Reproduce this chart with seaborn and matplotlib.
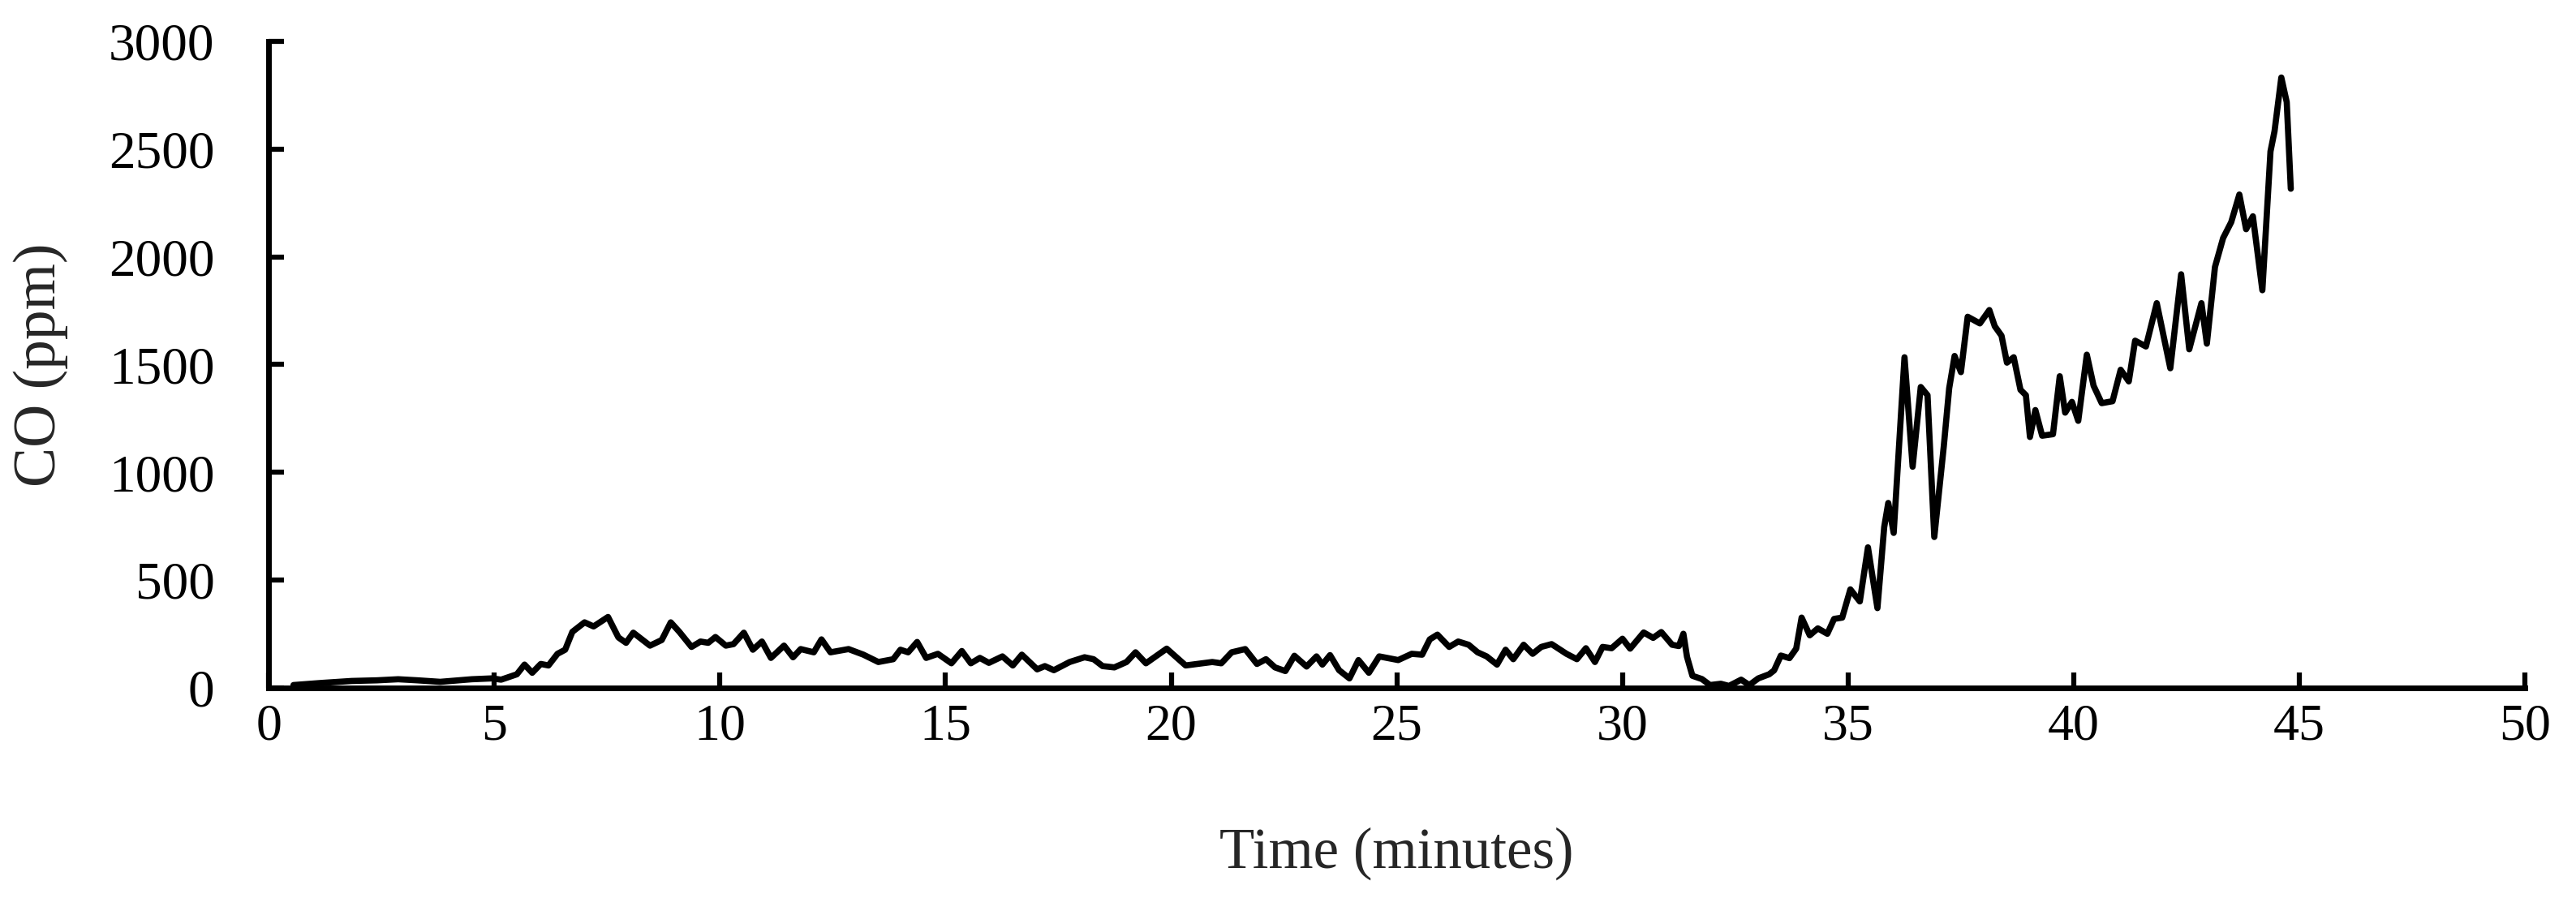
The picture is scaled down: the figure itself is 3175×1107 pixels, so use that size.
import numpy as np
import pandas as pd
import seaborn as sns
import matplotlib
matplotlib.use('Agg')
import matplotlib.pyplot as plt

# CO reading over time
time_min = [0.55, 1.18, 1.84, 2.4, 2.87, 3.3, 3.8, 4.5, 4.95, 5.15,
            5.5, 5.67, 5.84, 6.03, 6.2, 6.4, 6.57, 6.73, 7.0, 7.2,
            7.52, 7.75, 7.92, 8.08, 8.45, 8.71, 8.91, 9.1, 9.37, 9.57,
            9.74, 9.9, 10.13, 10.3, 10.53, 10.73, 10.93, 11.13, 11.42, 11.62,
            11.79, 12.08, 12.25, 12.45, 12.85, 13.18, 13.51, 13.84, 14.0, 14.17,
            14.37, 14.57, 14.83, 15.13, 15.36, 15.56, 15.76, 15.96, 16.26, 16.49,
            16.69, 17.03, 17.2, 17.4, 17.75, 18.08, 18.28, 18.48, 18.74, 19.01,
            19.21, 19.44, 19.9, 20.32, 20.58, 20.91, 21.11, 21.34, 21.64, 21.9,
            22.1, 22.3, 22.53, 22.73, 23.0, 23.22, 23.35, 23.52, 23.72, 23.95,
            24.15, 24.38, 24.61, 25.03, 25.33, 25.56, 25.73, 25.9, 26.16, 26.36,
            26.59, 26.79, 26.99, 27.22, 27.41, 27.58, 27.81, 28.01, 28.2, 28.43,
            28.76, 28.99, 29.19, 29.39, 29.56, 29.76, 30.0, 30.17, 30.47, 30.68,
            30.86, 31.1, 31.25, 31.35, 31.43, 31.55, 31.76, 31.94, 32.18, 32.36,
            32.63, 32.81, 33.01, 33.25, 33.36, 33.51, 33.7, 33.85, 33.97, 34.15,
            34.33, 34.54, 34.69, 34.87, 35.05, 35.26, 35.44, 35.65, 35.8, 35.89,
            36.01, 36.25, 36.43, 36.61, 36.76, 36.91, 37.12, 37.24, 37.36, 37.5,
            37.65, 37.92, 38.13, 38.25, 38.4, 38.52, 38.67, 38.82, 38.94, 39.03,
            39.15, 39.3, 39.54, 39.69, 39.81, 39.96, 40.1, 40.29, 40.44, 40.62,
            40.86, 41.04, 41.22, 41.36, 41.6, 41.84, 42.14, 42.38, 42.56, 42.83,
            42.95, 43.13, 43.31, 43.49, 43.67, 43.82, 43.97, 44.18, 44.36, 44.45,
            44.6, 44.72, 44.81]
co_ppm = [13, 23, 32, 35, 40, 35, 28, 40, 44, 38,
          63, 108, 70, 111, 104, 158, 177, 260, 304, 285,
          329, 234, 209, 256, 196, 222, 304, 260, 190, 215,
          209, 236, 196, 203, 256, 177, 215, 139, 196, 142,
          180, 165, 225, 165, 180, 154, 120, 133, 177, 165,
          213, 139, 158, 114, 171, 114, 139, 116, 146, 104,
          154, 86, 101, 82, 120, 142, 133, 101, 95, 120,
          165, 114, 182, 104, 111, 120, 114, 165, 180, 111,
          133, 95, 78, 149, 99, 146, 108, 152, 82, 44,
          129, 70, 146, 129, 158, 154, 225, 247, 190, 215,
          200, 165, 146, 108, 177, 133, 200, 158, 190, 203,
          158, 133, 184, 120, 190, 184, 228, 182, 257, 232,
          259, 200, 194, 251, 144, 56, 41, 13, 19, 9,
          38, 13, 44, 63, 81, 150, 138, 182, 326, 244,
          276, 251, 320, 326, 457, 401, 652, 370, 746, 858,
          719, 1534, 1026, 1396, 1358, 700, 1120, 1390, 1540, 1465,
          1722, 1691, 1753, 1678, 1634, 1509, 1534, 1383, 1358, 1164,
          1289, 1170, 1177, 1446, 1277, 1327, 1239, 1546, 1402, 1321,
          1330, 1476, 1422, 1611, 1584, 1785, 1483, 1919, 1571, 1785,
          1597, 1953, 2087, 2161, 2289, 2128, 2188, 1845, 2489, 2583,
          2832, 2718, 2316]

x_ticks = [0, 5, 10, 15, 20, 25, 30, 35, 40, 45, 50]
y_ticks = [0, 500, 1000, 1500, 2000, 2500, 3000]

sns.set_style('ticks')
plt.rcParams['font.family'] = ['Liberation Serif', 'DejaVu Serif']

fig = plt.figure(figsize=(31.75, 11.07), dpi=100)
ax = fig.add_axes([0.1043, 0.234, 0.8759, 0.720])

sns.lineplot(x=time_min, y=co_ppm, color='black', linewidth=5.5, sort=False, ax=ax)

ax.set_xlim(0, 50)
ax.set_ylim(0, 3000)
ax.set_xticks(x_ticks)
ax.set_yticks(y_ticks)
sns.despine(ax=ax)
for side in ['left', 'bottom']:
    ax.spines[side].set_linewidth(5)
    ax.spines[side].set_color('black')

ax.tick_params(axis='both', direction='in', length=14, width=4.5, colors='black')
ax.tick_params(axis='y', pad=48, labelsize=47)
ax.tick_params(axis='x', pad=14, labelsize=46)

ax.set_xlabel('Time (minutes)', fontsize=51, labelpad=68)
ax.set_ylabel('CO (ppm)', fontsize=53, labelpad=36)

fig.savefig('out.png', dpi=100, facecolor='white')
